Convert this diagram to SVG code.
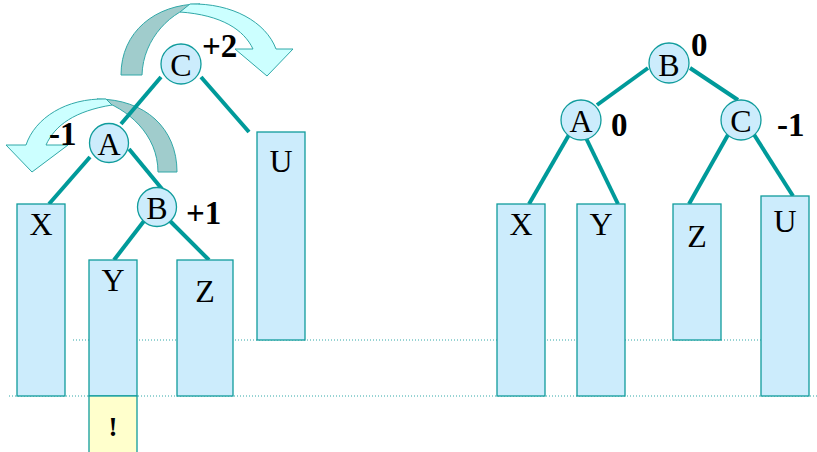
<svg xmlns="http://www.w3.org/2000/svg" width="817" height="452" viewBox="0 0 817 452">
<style>
.box{fill:#ccecfc;stroke:#109c9c;stroke-width:1.3}
.warn{fill:#ffffcc;stroke:#109c9c;stroke-width:1.3}
.node{fill:#ccecfc;stroke:#109c9c;stroke-width:1.3}
.edge{stroke:#009a9a;stroke-width:4;fill:none}
.dot{stroke:#30a8a8;stroke-width:1;stroke-dasharray:1 2;fill:none}
.lbl{font-family:"Liberation Serif","Times New Roman",serif;font-size:32px;fill:#000;text-anchor:middle}
.bal{font-family:"Liberation Serif","Times New Roman",serif;font-size:33px;font-weight:bold;fill:#000}
.dark{fill:#a0cccc;stroke:#30a8a8;stroke-width:1}
.light{fill:#ccffff;stroke:#30a8a8;stroke-width:1}
</style>
<g id="guides">
<line class="dot" x1="73" y1="340" x2="761" y2="340"/>
<line class="dot" x1="9" y1="396" x2="817" y2="396"/>
</g>
<g id="arrows">
<g id="rot-big">
<path class="dark" d="M121,75 C121,32 155,4 200,4 C172,10 143,38 142,75 Z"/>
<path class="light" d="M190,4 C232,3 266,22 276,49 L293,49 L267,76 L235,49 L253,49 C244,30 222,15 180,12 Z"/>
</g>
<g id="rot-small">
<path class="dark" d="M177,172 C177,128 145,99 97,99 C128,108 158,135 158,172 Z"/>
<path class="light" d="M106,99 C66,98 35,118 26,145 L6,145 L32,172 L68,145 L46,145 C55,125 75,111 112,105 Z"/>
</g>
</g>
<g id="connectors">
<line class="edge" x1="161" y1="77" x2="121" y2="124"/>
<line class="edge" x1="201" y1="77" x2="249" y2="132"/>
<line class="edge" x1="90" y1="157" x2="49" y2="204"/>
<line class="edge" x1="129" y1="149" x2="162" y2="189"/>
<line class="edge" x1="144" y1="221" x2="114" y2="260"/>
<line class="edge" x1="170" y1="221" x2="209" y2="260"/>
<line class="edge" x1="648" y1="68" x2="597" y2="105"/>
<line class="edge" x1="690" y1="68" x2="738" y2="100"/>
<line class="edge" x1="570" y1="133" x2="529" y2="204"/>
<line class="edge" x1="586" y1="138" x2="618" y2="204"/>
<line class="edge" x1="729" y1="133" x2="689" y2="204"/>
<line class="edge" x1="753" y1="133" x2="793" y2="196"/>
</g>
<g id="L-X"><rect class="box" x="17" y="204" width="48" height="192"/><text class="lbl" x="41" y="235">X</text></g>
<g id="L-Y"><rect class="box" x="89" y="260" width="48" height="136"/><text class="lbl" x="113" y="291">Y</text></g>
<g id="L-warn"><rect class="warn" x="89" y="396" width="48" height="58"/><text class="bal" x="113" y="436" text-anchor="middle" style="font-size:27px">!</text></g>
<g id="L-Z"><rect class="box" x="177" y="260" width="56" height="136"/><text class="lbl" x="205" y="302">Z</text></g>
<g id="L-U"><rect class="box" x="257" y="132" width="48" height="208"/><text class="lbl" x="281" y="172">U</text></g>
<g id="L-C"><circle class="node" cx="181" cy="64" r="20"/><text class="lbl" x="181" y="76">C</text><text class="bal" x="202" y="57">+2</text></g>
<g id="L-A"><circle class="node" cx="109" cy="143" r="19.5"/><text class="lbl" x="109" y="155">A</text><text class="bal" x="49" y="145">-1</text></g>
<g id="L-B"><circle class="node" cx="157" cy="207" r="19.5"/><text class="lbl" x="157" y="219">B</text><text class="bal" x="186" y="224">+1</text></g>
<g id="R-X"><rect class="box" x="497" y="204" width="48" height="192"/><text class="lbl" x="521" y="235">X</text></g>
<g id="R-Y"><rect class="box" x="577" y="204" width="48" height="192"/><text class="lbl" x="601" y="235">Y</text></g>
<g id="R-Z"><rect class="box" x="673" y="204" width="48" height="136"/><text class="lbl" x="697" y="247">Z</text></g>
<g id="R-U"><rect class="box" x="761" y="196" width="48" height="200"/><text class="lbl" x="785" y="232">U</text></g>
<g id="R-B"><circle class="node" cx="669" cy="63" r="20"/><text class="lbl" x="669" y="76">B</text><text class="bal" x="691" y="56">0</text></g>
<g id="R-A"><circle class="node" cx="581" cy="120" r="20"/><text class="lbl" x="581" y="132">A</text><text class="bal" x="611" y="136">0</text></g>
<g id="R-C"><circle class="node" cx="741" cy="120" r="20"/><text class="lbl" x="741" y="132">C</text><text class="bal" x="777" y="136">-1</text></g>
</svg>
